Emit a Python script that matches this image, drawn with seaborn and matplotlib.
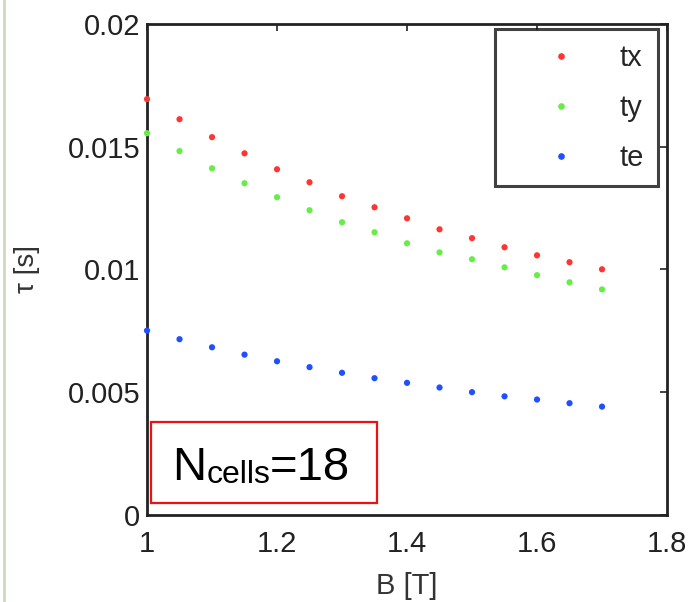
import matplotlib
matplotlib.use("Agg")
import matplotlib.pyplot as plt
import seaborn as sns
import pandas as pd
from matplotlib.lines import Line2D
from matplotlib.patches import Rectangle

B = [1.0, 1.05, 1.1, 1.15, 1.2, 1.25, 1.3, 1.35, 1.4, 1.45, 1.5, 1.55, 1.6, 1.65, 1.7]
tx = [0.01694, 0.01612, 0.01539, 0.01473, 0.01408, 0.01355, 0.01298, 0.01253,
      0.01208, 0.01163, 0.01127, 0.01090, 0.01057, 0.01029, 0.01000]
ty = [0.01555, 0.01482, 0.01412, 0.01351, 0.01294, 0.01241, 0.01192, 0.01151,
      0.01106, 0.01069, 0.01041, 0.01008, 0.00976, 0.00947, 0.00918]
te = [0.00750, 0.00715, 0.00682, 0.00652, 0.00625, 0.00601, 0.00578, 0.00556,
      0.00537, 0.00518, 0.00499, 0.00482, 0.00469, 0.00454, 0.00440]
series_names = ["tx", "ty", "te"]
colors = {"tx": "#ff3535", "ty": "#66ee44", "te": "#1f4fff"}
xticks = [1, 1.2, 1.4, 1.6, 1.8]
xtick_labels = ["1", "1.2", "1.4", "1.6", "1.8"]
yticks = [0, 0.005, 0.01, 0.015, 0.02]
ytick_labels = ["0", "0.005", "0.01", "0.015", "0.02"]

df = pd.DataFrame({"B": B * 3,
                   "tau": tx + ty + te,
                   "series": ["tx"] * len(B) + ["ty"] * len(B) + ["te"] * len(B)})

sns.set_theme(style="white")
plt.rcParams["font.family"] = ["Liberation Sans", "DejaVu Sans"]

fig = plt.figure(figsize=(6.88, 6.02), dpi=100)
ax = fig.add_axes([0.2137, 0.1453, 0.7558, 0.8147])

sns.scatterplot(data=df, x="B", y="tau", hue="series", hue_order=series_names,
                palette=colors, s=20, linewidth=0, ax=ax, legend=False, clip_on=False,
                zorder=3)

ax.set_xlim(1, 1.8)
ax.set_ylim(0, 0.02)
ax.set_xticks(xticks)
ax.set_xticklabels(xtick_labels)
ax.set_yticks(yticks)
ax.set_yticklabels(ytick_labels)
ax.tick_params(direction="in", length=5, width=1.2, top=True, right=True,
               labelsize=21, colors="#222222")
ax.tick_params(axis="y", pad=5)
ax.tick_params(axis="x", pad=11)
for sp in ax.spines.values():
    sp.set_color("#222222")
    sp.set_linewidth(2)
ax.set_xlabel("B [T]", fontsize=21, color="#333333", labelpad=10)
ax.set_ylabel("τ [s]", fontsize=20, color="#333333", labelpad=20)

handles = [Line2D([0], [0], marker="o", linestyle="", markersize=4.8,
                  markerfacecolor=colors[n], markeredgewidth=0) for n in series_names]
leg = ax.legend(handles, series_names, loc="upper right", bbox_to_anchor=(0.983, 0.989),
                fontsize=21, frameon=True, fancybox=False, handletextpad=0.25,
                borderpad=0.5, labelspacing=0.75, markerfirst=True, borderaxespad=0,
                handlelength=3.5)
leg.get_frame().set_edgecolor("#111111")
leg.get_frame().set_linewidth(2.2)

# annotation box
rect = Rectangle((151 / 688, 1 - 503 / 602), (377 - 151) / 688, (503 - 422) / 602,
                 transform=fig.transFigure, facecolor="white", edgecolor="#ee1111",
                 linewidth=1.6, zorder=5, clip_on=False)
ax.add_artist(rect)
t1 = ax.text(172 / 688, 1 - 480 / 602, "N", fontsize=34, color="black",
             va="baseline", ha="left", zorder=6, transform=fig.transFigure,
             clip_on=False)
a1 = ax.annotate("cells", xy=(1, 0), xycoords=t1, fontsize=23, va="bottom",
                 ha="left", color="black", annotation_clip=False, zorder=6)
a2 = ax.annotate("=18", xy=(1, 0), xycoords=a1, fontsize=34, va="bottom",
                 ha="left", color="black", annotation_clip=False, zorder=6)

# left edge artifact line
fig.add_artist(Line2D([3.5 / 688, 3.5 / 688], [0, 1], transform=fig.transFigure,
                      color="#cdd9c0", linewidth=2))

fig.savefig("out.png", dpi=100)
